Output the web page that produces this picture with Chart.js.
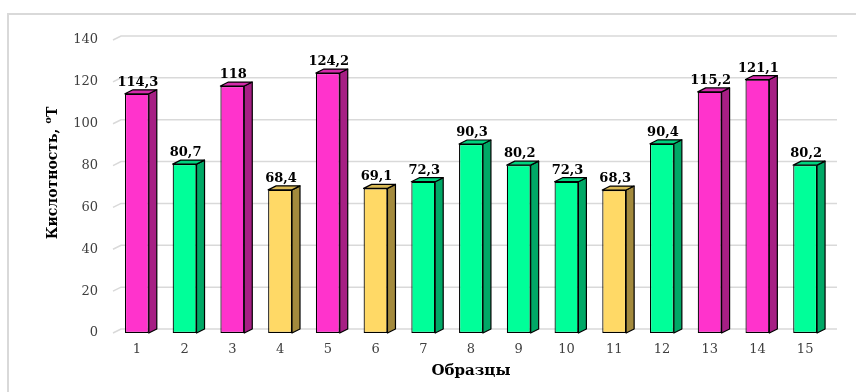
<!DOCTYPE html>
<html>
<head>
<meta charset="utf-8">
<script src="https://cdn.jsdelivr.net/npm/chart.js@4/dist/chart.umd.min.js"></script>
<style>
html, body { margin: 0; padding: 0; background: #fff; }
canvas { display: block; }
</style>
</head>
<body>
<canvas id="chart" width="856" height="392"></canvas>
<script>
'use strict';

// samples and measured acidity
const samples = ['1', '2', '3', '4', '5', '6', '7', '8', '9', '10', '11', '12', '13', '14', '15'];
const acidity = [114.3, 80.7, 118, 68.4, 124.2, 69.1, 72.3, 90.3, 80.2, 72.3, 68.3, 90.4, 115.2, 121.1, 80.2];
const grade = ['high', 'mid', 'high', 'low', 'high', 'low', 'mid', 'mid', 'mid', 'mid', 'low', 'mid', 'high', 'high', 'mid'];
const yMin = 0, yMax = 140, yStep = 20;
const xTitle = 'Образцы';
const yTitle = 'Кислотность, ';
const yUnit = 'Т', yUnitSup = 'о';

// front / side / top colours for every group
const palette = {
	high: {front: '#FF33CC', side: '#A61F84', top: '#D42AAA'},
	mid:  {front: '#00FF99', side: '#00A866', top: '#00D27E'},
	low:  {front: '#FFD966', side: '#A38A3D', top: '#D9B955'}
};

const SERIF = '"DejaVu Serif", "Liberation Serif", serif';
const DX = 8, DY = 4; // depth of the boxes

const fmt = (v) => String(v).replace('.', ',');

const poly = (ctx, pts, fill) => {
	ctx.beginPath();
	ctx.moveTo(pts[0][0], pts[0][1]);
	for (let i = 1; i < pts.length; i++) ctx.lineTo(pts[i][0], pts[i][1]);
	ctx.closePath();
	ctx.fillStyle = fill;
	ctx.fill();
	ctx.stroke();
};

// light frame around the whole chart
const frame = {
	id: 'frame',
	beforeDraw(chart) {
		const ctx = chart.ctx;
		ctx.save();
		ctx.strokeStyle = '#d9d9d9';
		ctx.lineWidth = 2;
		ctx.strokeRect(8, 14, 900, 420);
		ctx.restore();
	}
};

// gridlines on the back wall with small diagonal steps on the left
const wall = {
	id: 'wall',
	beforeDatasetsDraw(chart) {
		const {ctx, chartArea: a, scales: {y}} = chart;
		ctx.save();
		ctx.strokeStyle = '#d9d9d9';
		ctx.lineWidth = 1.5;
		y.ticks.forEach((t) => {
			const py = y.getPixelForValue(t.value);
			ctx.beginPath();
			ctx.moveTo(a.left, py);
			ctx.lineTo(a.left + DX, py - DY);
			ctx.lineTo(a.right + DX, py - DY);
			ctx.stroke();
		});
		ctx.restore();
	}
};

// side and top faces of each bar plus the value above it
const boxes = {
	id: 'boxes',
	afterDatasetsDraw(chart) {
		const ctx = chart.ctx;
		const meta = chart.getDatasetMeta(0);
		ctx.save();
		ctx.lineWidth = 1.2;
		ctx.strokeStyle = '#000';
		ctx.lineJoin = 'round';
		meta.data.forEach((bar, i) => {
			const {x, y, base, width} = bar.getProps(['x', 'y', 'base', 'width'], true);
			const l = x - width / 2, r = x + width / 2;
			const p = palette[grade[i]];
			poly(ctx, [[r, y], [r + DX, y - DY], [r + DX, base - DY], [r, base]], p.side);
			poly(ctx, [[l, y], [l + DX, y - DY], [r + DX, y - DY], [r, y]], p.top);
			ctx.fillStyle = '#000';
			ctx.font = 'bold 13px ' + SERIF;
			ctx.textAlign = 'center';
			ctx.textBaseline = 'alphabetic';
			ctx.fillText(fmt(acidity[i]), x + 1, y - DY - 4);
		});
		ctx.restore();
	}
};

// axis titles, the y one with a raised "о" before the unit
const titles = {
	id: 'titles',
	afterDraw(chart) {
		const {ctx, chartArea: a} = chart;
		ctx.save();
		ctx.fillStyle = '#000';
		ctx.font = 'bold 15px ' + SERIF;
		ctx.textAlign = 'center';
		ctx.textBaseline = 'middle';
		ctx.fillText(xTitle, (a.left + a.right) / 2, 371);

		ctx.translate(53, 173);
		ctx.rotate(-Math.PI / 2);
		ctx.textAlign = 'left';
		const big = 'bold 14px ' + SERIF, small = 'bold 10px ' + SERIF;
		ctx.font = big;
		const w1 = ctx.measureText(yTitle).width, w3 = ctx.measureText(yUnit).width;
		ctx.font = small;
		const w2 = ctx.measureText(yUnitSup).width;
		let cx = -(w1 + w2 + w3) / 2;
		ctx.font = big;
		ctx.fillText(yTitle, cx, 0);
		cx += w1;
		ctx.font = small;
		ctx.fillText(yUnitSup, cx, -5);
		cx += w2;
		ctx.font = big;
		ctx.fillText(yUnit, cx, 0);
		ctx.restore();
	}
};

const chart = new Chart(document.getElementById('chart').getContext('2d'), {
	type: 'bar',
	data: {
		labels: samples,
		datasets: [{
			data: acidity,
			backgroundColor: grade.map((g) => palette[g].front),
			borderColor: '#000',
			borderWidth: 1.2,
			borderSkipped: false,
			barPercentage: 0.5,
			categoryPercentage: 1.0
		}]
	},
	options: {
		responsive: false,
		animation: false,
		layout: {padding: {left: 0, right: 27, top: 40, bottom: 0}},
		plugins: {
			legend: {display: false},
			tooltip: {enabled: false}
		},
		scales: {
			x: {
				grid: {display: false, drawTicks: false, tickLength: 0},
				border: {display: false},
				ticks: {
					padding: 9,
					color: '#404040',
					font: {family: SERIF, size: 13}
				},
				afterFit: (s) => { s.height = 59; }
			},
			y: {
				min: yMin,
				max: yMax,
				grid: {display: false, drawTicks: false, tickLength: 0},
				border: {display: false},
				ticks: {
					stepSize: yStep,
					padding: 15,
					color: '#404040',
					font: {family: SERIF, size: 13}
				},
				afterFit: (s) => { s.width = 113; }
			}
		}
	},
	plugins: [frame, wall, boxes, titles]
});
</script>
</body>
</html>
